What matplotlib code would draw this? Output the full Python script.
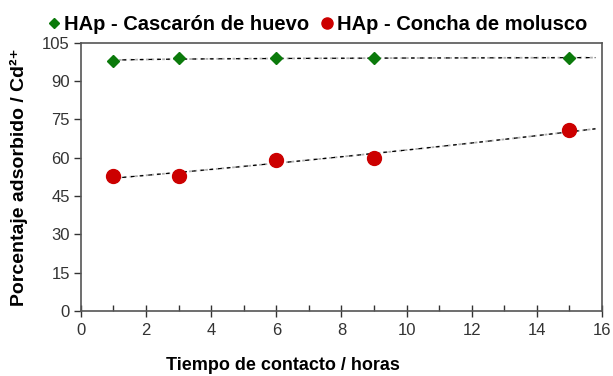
import numpy as np
import matplotlib
matplotlib.use("Agg")
import matplotlib.pyplot as plt

plt.rcParams['font.family'] = ['Liberation Sans', 'DejaVu Sans']

horas = [1, 3, 6, 9, 15]
cascaron = [98, 99, 99, 99, 99]
concha = [53, 53, 59, 60, 71]

fig = plt.figure(figsize=(6.13, 3.76), dpi=100)
ax = fig.add_axes([0.132, 0.173, 0.850, 0.713])

x = np.array(horas, dtype=float)
xt = np.linspace(1, 15.8, 200)

# trend lines: log fit for eggshell, exponential for shell
c1 = np.polyfit(np.log(x), cascaron, 1)
y1 = np.polyval(c1, np.log(xt))
c2 = np.polyfit(x, np.log(concha), 1)
y2 = np.exp(np.polyval(c2, xt))
for yy in (y1, y2):
    ax.plot(xt, yy, color='#b0b0b0', lw=1.3, ls=(0, (1.5, 1.5)), zorder=1)
    ax.plot(xt, yy, color='black', lw=0.9, ls=(0, (3, 4)), zorder=2)

ax.plot(horas, cascaron, 'D', color='#0b7a0b', ms=6.5, mec='#0b7a0b', zorder=3,
        label='HAp - Cascarón de huevo')
ax.plot(horas, concha, 'o', color='#cc0000', ms=10, mec='#cc0000', zorder=3,
        label='HAp - Concha de molusco')

ax.set_xlim(0, 16)
ax.set_ylim(0, 105)
ax.set_xticks(range(0, 17, 2))
ax.set_xticks(range(0, 17, 1), minor=True)
ax.set_yticks(range(0, 106, 15))
ax.tick_params(axis='both', labelsize=12, colors='#333333', width=1)
ax.tick_params(axis='x', which='minor', length=4, width=1, direction='in', colors='#333333')
ax.tick_params(axis='x', which='major', direction='inout', length=8, pad=5)
ax.tick_params(axis='y', which='major', direction='out', length=5, pad=3)
for s in ax.spines.values():
    s.set_color('#555555')
    s.set_linewidth(1.2)

ax.set_xlabel('Tiempo de contacto / horas', fontsize=13, fontweight='bold', labelpad=12)
ax.xaxis.set_label_coords(0.388, -0.17)
ax.set_ylabel('Porcentaje adsorbido / Cd²⁺', fontsize=14, fontweight='bold', labelpad=10)

leg = ax.legend(loc='lower center', bbox_to_anchor=(0.45, 0.995), ncol=2, frameon=False,
                prop=dict(size=14.5, weight='bold'),
                handletextpad=0.0, columnspacing=0.4, handlelength=1.0,
                borderaxespad=0.1, markerscale=0.8)

fig.savefig('out.png', dpi=100)
